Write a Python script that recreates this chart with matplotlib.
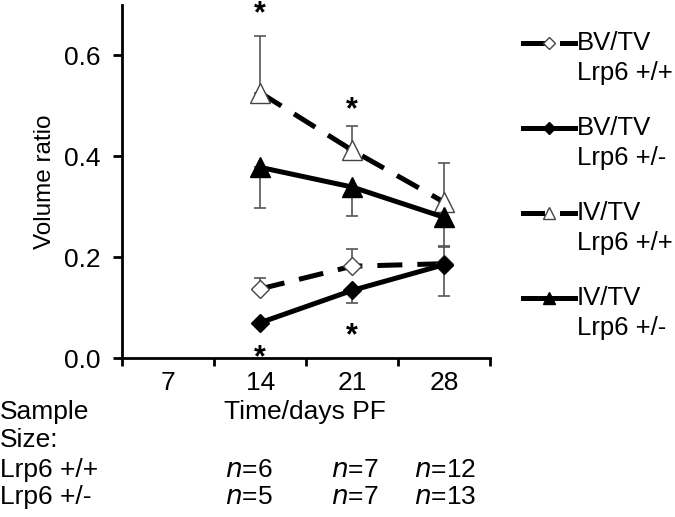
import matplotlib
matplotlib.use("Agg")
import matplotlib.pyplot as plt
from matplotlib.lines import Line2D

plt.rcParams['font.family'] = ['Liberation Sans', 'DejaVu Sans']

days = ["7", "14", "21", "28"]
time_pts = ["14", "21", "28"]

bv_wt = [0.137, 0.182, 0.187]
bv_wt_err = [0.022, 0.035, 0.035]
bv_het = [0.070, 0.134, 0.185]
bv_het_err = [0.0, 0.025, 0.063]
iv_wt = [0.526, 0.412, 0.309]
iv_wt_err = [0.112, 0.048, 0.078]
iv_het = [0.378, 0.339, 0.279]
iv_het_err = [0.081, 0.058, 0.058]

n_wt = ["6", "7", "12"]
n_het = ["5", "7", "13"]

star_top = {"14": 0.666, "21": 0.476}
star_bot = {"14": -0.016, "21": 0.028}

FS = 19

fig = plt.figure(figsize=(6.75, 5.17), dpi=100)
ax = fig.add_axes([0.181, 0.3075, 0.545, 0.683])

pos = {d: i + 1 for i, d in enumerate(days)}
xs = [pos[t] for t in time_pts]

lw = 3.6
dash = (0, (5, 3))
errc = '#555555'

ek = dict(fmt='none', ecolor=errc, elinewidth=1.2, capsize=4, capthick=1.2, zorder=1)
ax.errorbar(xs, bv_wt, yerr=[[0]*3, bv_wt_err], **ek)
ax.errorbar(xs, bv_het, yerr=[bv_het_err, [0]*3], **ek)
ax.errorbar(xs, iv_wt, yerr=[[0]*3, iv_wt_err], **ek)
ax.errorbar(xs, iv_het, yerr=[iv_het_err, [0]*3], **ek)

ax.plot(xs, bv_wt, color='black', lw=lw, linestyle=dash, marker='D', markersize=9,
        markerfacecolor='white', markeredgecolor='#444444', markeredgewidth=1.0, zorder=3)
ax.plot(xs, bv_het, color='black', lw=lw, marker='D', markersize=9,
        markerfacecolor='black', markeredgecolor='black', zorder=3)
ax.plot(xs, iv_wt, color='black', lw=lw, linestyle=dash, marker='^', markersize=14,
        markerfacecolor='white', markeredgecolor='#444444', markeredgewidth=1.0, zorder=3)
ax.plot(xs, iv_het, color='black', lw=lw, marker='^', markersize=14,
        markerfacecolor='black', markeredgecolor='black', zorder=3)

for t, v in list(star_top.items()) + list(star_bot.items()):
    ax.text(pos[t], v, "*", ha='center', va='baseline', fontsize=22, fontweight='bold', clip_on=False)

ax.set_xlim(0.5, 4.5)
ax.set_ylim(0, 0.7)
ax.set_yticks([0.0, 0.2, 0.4, 0.6])
ax.set_yticklabels(["0.0", "0.2", "0.4", "0.6"], fontsize=FS)
ax.set_xticks([0.5, 1.5, 2.5, 3.5, 4.5])
ax.set_xticklabels([])
ax.set_xticks([1, 2, 3, 4], minor=True)
ax.set_xticklabels(days, minor=True, fontsize=FS)
ax.tick_params(axis='x', which='minor', length=0, pad=9)
ax.tick_params(axis='x', which='major', direction='out', length=6, width=2)
ax.tick_params(axis='y', direction='out', length=6.5, width=2, pad=9)
for s in ['top', 'right']:
    ax.spines[s].set_visible(False)
for s in ['left', 'bottom']:
    ax.spines[s].set_linewidth(2)
ax.set_ylabel("Volume ratio", fontsize=17.5, labelpad=6)

fig.text(305/675, 1 - 412/517, "Time/days PF", ha='center', va='center', fontsize=FS)
fig.text(0.0, 1 - 412/517, "Sample", ha='left', va='center', fontsize=FS)
fig.text(0.0, 1 - 440/517, "Size:", ha='left', va='center', fontsize=FS)
fig.text(0.0, 1 - 470/517, "Lrp6 +/+", ha='left', va='center', fontsize=FS)
fig.text(0.0, 1 - 497/517, "Lrp6 +/-", ha='left', va='center', fontsize=FS)
ncol_x = {"14": 249, "21": 355, "28": 445}
for t, a, b in zip(time_pts, n_wt, n_het):
    fig.text(ncol_x[t]/675, 1 - 470/517, r"$\it{n}$=" + a, ha='center', va='center', fontsize=FS)
    fig.text(ncol_x[t]/675, 1 - 497/517, r"$\it{n}$=" + b, ha='center', va='center', fontsize=FS)

leg_items = [
    ("BV/TV", "Lrp6 +/+", dash, 'D', 'white', 6),
    ("BV/TV", "Lrp6 +/-", '-', 'D', 'black', 6),
    ("IV/TV", "Lrp6 +/+", dash, '^', 'white', 8),
    ("IV/TV", "Lrp6 +/-", '-', '^', 'black', 9),
]
leg_y = [43, 128, 213, 298]
for (l1, l2, ls, mk, fc, ms), y in zip(leg_items, leg_y):
    yf = 1 - y/517
    if ls == '-':
        fig.add_artist(Line2D([523/675, 575/675], [yf, yf], color='black', lw=lw))
    else:
        fig.add_artist(Line2D([523/675, 542/675], [yf, yf], color='black', lw=lw))
        fig.add_artist(Line2D([562/675, 575/675], [yf, yf], color='black', lw=lw))
    fig.add_artist(Line2D([549/675], [yf], marker=mk, markersize=ms, markerfacecolor=fc,
                          markeredgecolor='#444444' if fc == 'white' else 'black', markeredgewidth=1.0, lw=0))
    fig.text(577/675, yf, l1, ha='left', va='center', fontsize=18.5)
    fig.text(577/675, yf - 30/517, l2, ha='left', va='center', fontsize=18.5)

fig.savefig("out.png", dpi=100)
